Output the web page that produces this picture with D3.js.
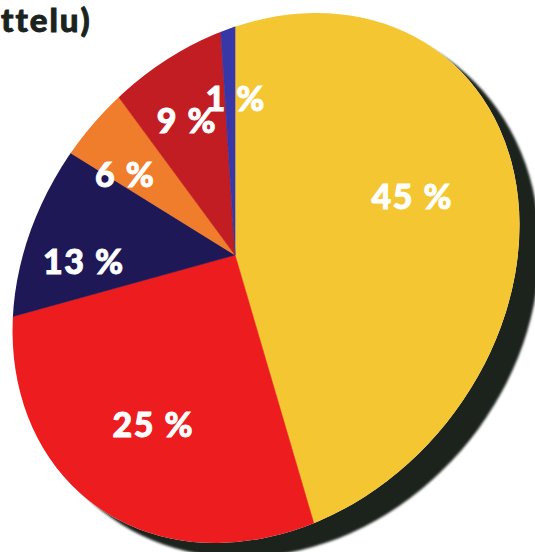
<!DOCTYPE html>
<html><head><meta charset="utf-8">
<script src="https://cdn.jsdelivr.net/npm/d3@7"></script>
<style>html,body{margin:0;padding:0;background:#fff;overflow:hidden}</style>
</head><body>
<svg id="chart" width="535" height="552"></svg>
<script>
// ---- data (clockwise from 12 o'clock) ----
const values = [45, 25, 13, 6, 9, 1];
const colors = ["#f4c631", "#ec1c1f", "#1e1856", "#ef7d2c", "#c11d22", "#3737a8"];
const titleLines = ["ttelu)"];

// ---- layout ----
const W = 535, H = 552;
const apex = [235, 255];
const disk = {cx: 266, cy: 278, rx: 284.5, ry: 231.4, rot: -51.3};
const shadow = {cx: 279, cy: 288, rx: 284.5, ry: 244, rot: -51.3};
const labelR = 170;
const labelNudge = [[9,-34],[1,21],[17,31],[15,35],[10,25],[6,14]];

const svg = d3.select("#chart");
const defs = svg.append("defs");
defs.append("clipPath").attr("id","diskClip").attr("clipPathUnits","userSpaceOnUse")
  .append("ellipse")
  .attr("cx",disk.cx).attr("cy",disk.cy).attr("rx",disk.rx).attr("ry",disk.ry)
  .attr("transform",`rotate(${disk.rot} ${disk.cx} ${disk.cy})`);
const blur = defs.append("filter").attr("id","soft").attr("x","-10%").attr("y","-10%").attr("width","120%").attr("height","120%");
blur.append("feGaussianBlur").attr("stdDeviation",1.2);

// shadow
svg.append("ellipse")
  .attr("cx",shadow.cx).attr("cy",shadow.cy).attr("rx",shadow.rx).attr("ry",shadow.ry)
  .attr("transform",`rotate(${shadow.rot} ${shadow.cx} ${shadow.cy})`)
  .attr("fill","#1a201d").attr("filter","url(#soft)");

// white under disk so shadow does not bleed through
svg.append("ellipse")
  .attr("cx",disk.cx).attr("cy",disk.cy).attr("rx",disk.rx).attr("ry",disk.ry)
  .attr("transform",`rotate(${disk.rot} ${disk.cx} ${disk.cy})`)
  .attr("fill","#fff");

const pie = d3.pie().sort(null).value(d => d);
const arcs = pie(values);
const arc = d3.arc().innerRadius(0).outerRadius(450);
const labelArc = d3.arc().innerRadius(labelR).outerRadius(labelR);

const clipG = svg.append("g").attr("clip-path","url(#diskClip)");
const g = clipG.append("g").attr("transform",`translate(${apex[0]},${apex[1]})`);
g.selectAll("path.slice").data(arcs).join("path")
  .attr("class","slice")
  .attr("d", arc)
  .attr("fill",(d,i)=>colors[i])
  .attr("stroke",(d,i)=>colors[i]).attr("stroke-width",0.6);

// labels
const lg = svg.append("g").attr("transform",`translate(${apex[0]},${apex[1]})`);
lg.selectAll("text").data(arcs).join("text")
  .attr("x",(d,i)=>labelArc.centroid(d)[0]+labelNudge[i][0])
  .attr("y",(d,i)=>labelArc.centroid(d)[1]+labelNudge[i][1])
  .attr("dy","0.36em")
  .attr("text-anchor","middle")
  .attr("font-family","Lato, 'Open Sans', sans-serif")
  .attr("font-weight",900)
  .attr("font-size",34)
  .attr("letter-spacing",1.5)
  .attr("fill","#fff")
  .attr("stroke","#fff").attr("stroke-width",0.9)
  .text(d => `${d.data} %`);

// title fragment
svg.append("g").selectAll("text").data(titleLines).join("text")
  .attr("x",1).attr("y",(d,i)=>32 + i*34)
  .attr("font-family","Lato, 'Open Sans', sans-serif")
  .attr("font-weight",900)
  .attr("font-size",33)
  .attr("letter-spacing",2)
  .attr("fill","#1b231f")
  .attr("stroke","#1b231f").attr("stroke-width",0.9)
  .text(d=>d);
</script>
</body></html>
